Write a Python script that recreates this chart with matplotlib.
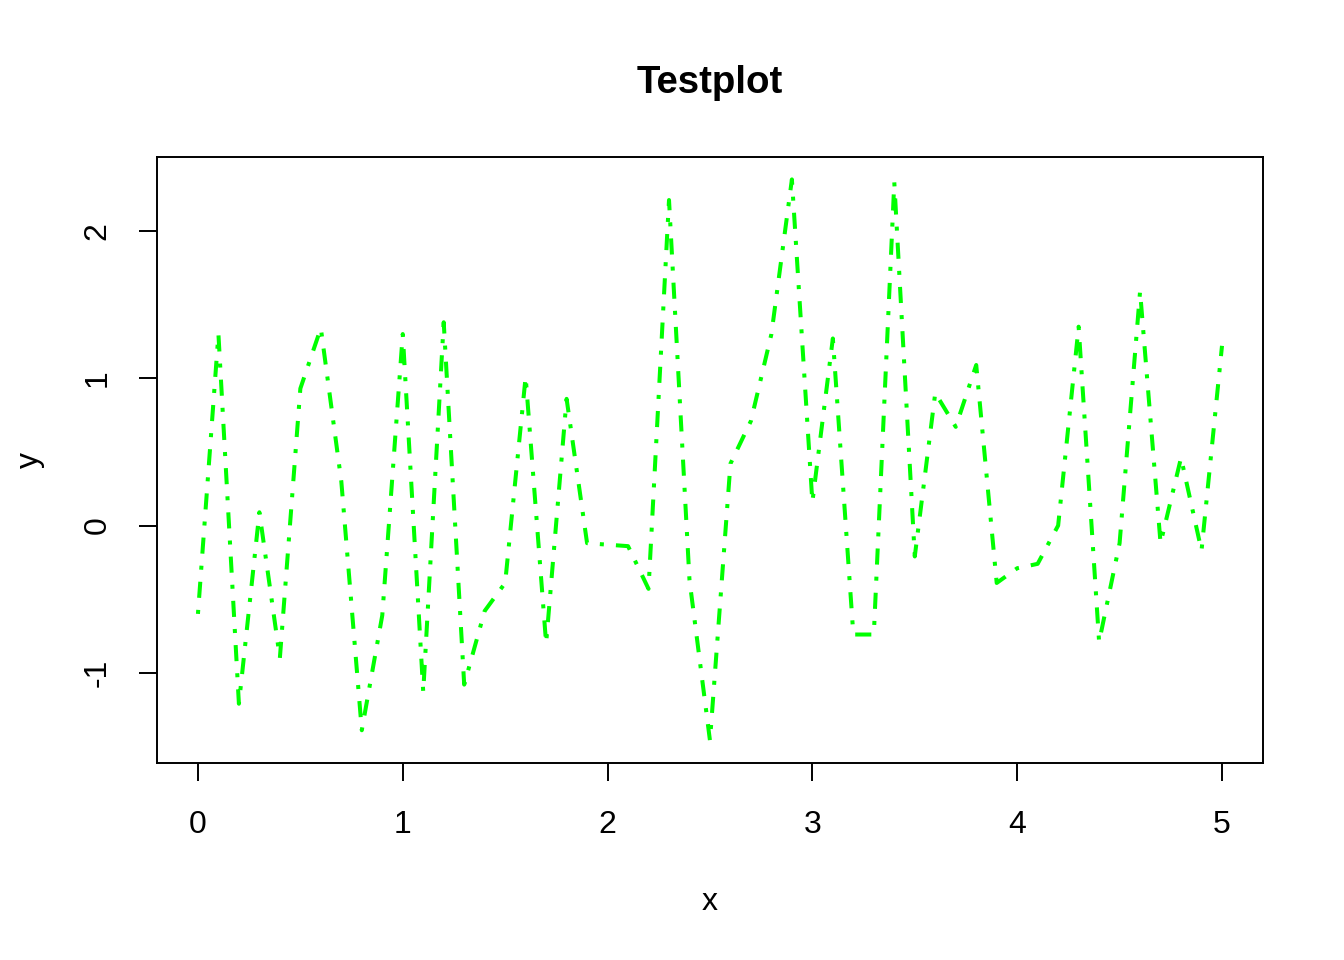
import matplotlib
matplotlib.use("Agg")
import matplotlib.pyplot as plt
import numpy as np

plt.rcParams['font.family'] = ['Liberation Sans', 'DejaVu Sans']

# datos
x = [0.0, 0.1, 0.2, 0.3, 0.4, 0.5, 0.6, 0.7, 0.8, 0.9,
     1.0, 1.1, 1.2, 1.3, 1.4, 1.5, 1.6, 1.7, 1.8, 1.9,
     2.0, 2.1, 2.2, 2.3, 2.4, 2.5, 2.6, 2.7, 2.8, 2.9,
     3.0, 3.1, 3.2, 3.3, 3.4, 3.5, 3.6, 3.7, 3.8, 3.9,
     4.0, 4.1, 4.2, 4.3, 4.4, 4.5, 4.6, 4.7, 4.8, 4.9, 5.0]
y = [-0.60, 1.30, -1.21, 0.09, -0.90, 0.93, 1.34, 0.30, -1.39, -0.61,
     1.30, -1.13, 1.38, -1.08, -0.58, -0.39, 1.01, -0.80, 0.86, -0.12,
     -0.13, -0.14, -0.43, 2.21, -0.37, -1.46, 0.42, 0.71, 1.30, 2.35,
     0.16, 1.27, -0.74, -0.74, 2.33, -0.21, 0.90, 0.67, 1.09, -0.39,
     -0.29, -0.26, 0.00, 1.35, -0.79, -0.12, 1.59, -0.12, 0.46, -0.17, 1.22]

x_ticks = [0, 1, 2, 3, 4, 5]
y_ticks = [-1, 0, 1, 2]

fig = plt.figure(figsize=(13.44, 9.6), dpi=100)
ax = fig.add_axes([0.1168, 0.2052, 0.8229, 0.6313])

# linea punto-raya verde (como lty=4 en R)
ax.plot(x, y, color='#00FF00', linewidth=2.9, dashes=(1, 3, 4, 3))

# limites con el 4% extra de R
xr = max(x) - min(x)
yr = max(y) - min(y)
ax.set_xlim(min(x) - 0.04 * xr, max(x) + 0.04 * xr)
ax.set_ylim(min(y) - 0.04 * yr, max(y) + 0.04 * yr)

ax.set_xticks(x_ticks)
ax.set_yticks(y_ticks)
ax.set_xticklabels([str(t) for t in x_ticks])
ax.set_yticklabels([str(t) for t in y_ticks], rotation=90, va='center')
ax.tick_params(axis='both', length=13, width=1.4, labelsize=23, direction='out')
ax.tick_params(axis='x', pad=21)
ax.tick_params(axis='y', pad=19)

for s in ax.spines.values():
    s.set_linewidth(1.4)

ax.set_xlabel('x', fontsize=23, labelpad=34)
ax.set_ylabel('y', fontsize=23, labelpad=27)
ax.set_title('Testplot', fontsize=27.6, fontweight='bold', pad=46)

plt.savefig('out.png', dpi=100)
